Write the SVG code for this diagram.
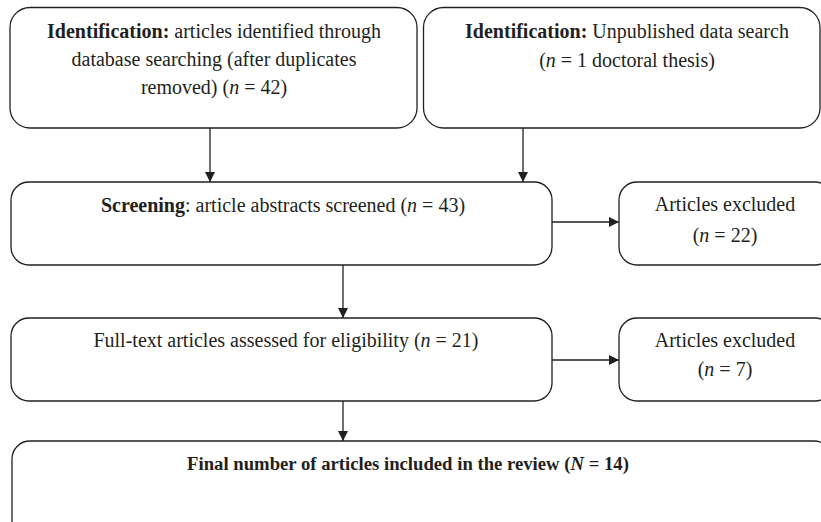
<svg xmlns="http://www.w3.org/2000/svg" width="821" height="522" viewBox="0 0 821 522">
<defs>
<style>
.box{fill:#fff;stroke:#231f20;stroke-width:1.3}
.t{font-family:"Liberation Serif","Times New Roman",serif;font-size:20px;fill:#231f20;text-anchor:middle}
.b{font-weight:bold}
.i{font-style:italic}
.f{font-size:18.7px}
.c{stroke:#231f20;stroke-width:1.3;fill:none;marker-end:url(#ah)}
</style>
<marker id="ah" viewBox="0 0 10 10" refX="10" refY="5" markerWidth="10" markerHeight="10" markerUnits="userSpaceOnUse" orient="auto">
<path d="M0,0 L10,5 L0,10 z" fill="#231f20"/>
</marker>
</defs>
<rect width="821" height="522" fill="#fff"/>
<g id="id1">
<rect class="box" x="10" y="7.5" width="407" height="120.5" rx="20"/>
<text class="t" x="214" y="38"><tspan class="b">Identification:</tspan> articles identified through</text>
<text class="t" x="214" y="66">database searching (after duplicates</text>
<text class="t" x="214" y="94">removed) (<tspan class="i">n</tspan> = 42)</text>
</g>
<g id="id2">
<rect class="box" x="423.5" y="7.5" width="396.5" height="120.5" rx="20"/>
<text class="t" x="627" y="38"><tspan class="b">Identification:</tspan> Unpublished data search</text>
<text class="t" x="627" y="67">(<tspan class="i">n</tspan> = 1 doctoral thesis)</text>
</g>
<g id="screening">
<rect class="box" x="11" y="182" width="541" height="83" rx="18"/>
<text class="t" x="283" y="212"><tspan class="b">Screening</tspan>: article abstracts screened (<tspan class="i">n</tspan> = 43)</text>
</g>
<g id="excl1">
<rect class="box" x="619" y="182" width="214" height="83" rx="18"/>
<text class="t" x="725" y="211">Articles excluded</text>
<text class="t" x="725" y="242">(<tspan class="i">n</tspan> = 22)</text>
</g>
<g id="fulltext">
<rect class="box" x="11" y="318" width="541" height="83" rx="18"/>
<text class="t" x="286" y="347">Full-text articles assessed for eligibility (<tspan class="i">n</tspan> = 21)</text>
</g>
<g id="excl2">
<rect class="box" x="619" y="318" width="214" height="83" rx="18"/>
<text class="t" x="725" y="347">Articles excluded</text>
<text class="t" x="725" y="376">(<tspan class="i">n</tspan> = 7)</text>
</g>
<g id="final">
<rect class="box" x="12" y="441" width="820" height="100" rx="18"/>
<text class="t b f" x="408" y="470">Final number of articles included in the review (<tspan class="i">N</tspan> = 14)</text>
</g>
<g id="connectors">
<line class="c" x1="210" y1="128" x2="210" y2="182"/>
<line class="c" x1="523" y1="128" x2="523" y2="182"/>
<line class="c" x1="552" y1="222" x2="619" y2="222"/>
<line class="c" x1="343" y1="265" x2="343" y2="318"/>
<line class="c" x1="552" y1="360" x2="619" y2="360"/>
<line class="c" x1="343" y1="401" x2="343" y2="441"/>
</g>
</svg>
